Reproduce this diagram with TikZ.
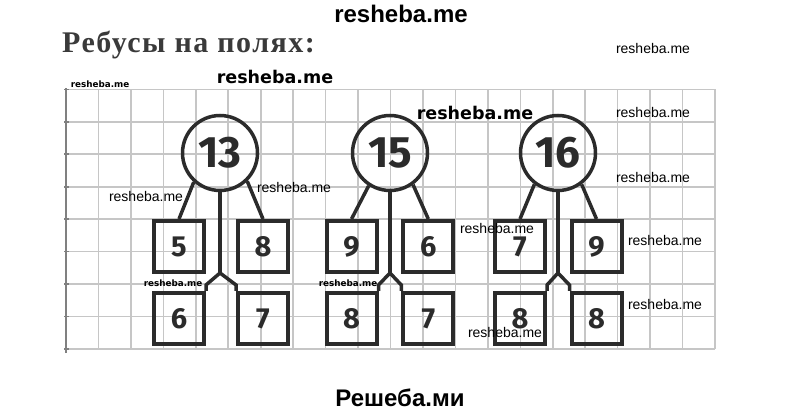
\documentclass[tikz,border=0pt]{standalone}
\usepackage{fontspec}
\setmainfont{Liberation Serif}
\newfontfamily\digitfont{Fira Sans}
\newfontfamily\wmfont{Liberation Sans}
\newfontfamily\wmboldfont{DejaVu Sans}
\usetikzlibrary{calc}

\definecolor{ink}{HTML}{2B2B2B}
\definecolor{gridgray}{HTML}{C6C6C6}
\definecolor{titlegray}{HTML}{3A3A3A}

\tikzset{
    cell/.style={draw=gridgray, line width=1.6pt},
    sumcirc/.style={circle, draw=ink, line width=3.5pt, minimum size=75pt, inner sep=0pt,
        text=ink, font=\digitfont\bfseries\fontsize{44}{44}\selectfont},
    partbox/.style={rectangle, draw=ink, line width=4pt, minimum width=50pt, minimum height=51pt,
        inner sep=0pt, text=ink, font=\digitfont\bfseries\fontsize{29}{29}\selectfont},
    link/.style={draw=ink, line width=3.5pt},
    wm/.style={inner sep=0pt, font=\wmfont\fontsize{14}{14}\selectfont},
    wmbold/.style={inner sep=0pt, font=\wmboldfont\bfseries\fontsize{#1}{#1}\selectfont},
}

\begin{document}
\begin{tikzpicture}[x=1pt, y=1pt]
    \useasboundingbox (0,0) rectangle (800,415);

    % title
    \node[anchor=base west, inner sep=0pt, text=titlegray,
          font=\bfseries\fontsize{30}{30}\selectfont\addfontfeatures{LetterSpace=5}]
          (title) at (62,362) {Ребусы на полях:};

    % squared paper
    \foreach \k in {0,...,20}
        \draw[cell] (66+32.45*\k,66) -- (66+32.45*\k,326);
    \foreach \k in {0,...,8}
        \draw[cell] (66,66+32.45*\k) -- (715,66+32.45*\k);
    \draw[draw=gray, line width=1.2pt] (66,62) -- (66,327);
    \foreach \k in {0,...,8}
        \draw[draw=gray, line width=1.6pt] (64,66+32.45*\k) -- (68.5,66+32.45*\k);

    % the three puzzles
    \foreach \n/\cx/\xl/\xr/\al/\ar/\a/\b/\c/\d in {
            13/220/179/263/228/314/5/8/6/7,
            15/390/351.5/428.3/237/306.6/9/6/8/7,
            16/558/520/596.5/233/307/7/9/8/8} {
        \node[sumcirc] (c\n) at (\cx,262) {\n};
        \node[partbox] (p\n a) at (\xl,168.5) {\a};
        \node[partbox] (p\n b) at (\xr,168.5) {\b};
        \node[partbox] (p\n c) at (\xl,96.5) {\c};
        \node[partbox] (p\n d) at (\xr,96.5) {\d};
        \coordinate (j\n) at (\cx,142);

        \draw[link] (c\n.\al) -- (p\n a.north);
        \draw[link] (c\n.\ar) -- (p\n b.north);
        \draw[link] (c\n.south) -- (j\n);
        \draw[link, line join=miter] (j\n) -- ([yshift=6pt]p\n c.north east) -- (p\n c.north east);
        \draw[link, line join=miter] (j\n) -- ([yshift=6pt]p\n d.north west) -- (p\n d.north west);
    }

    % watermarks
    \node[inner sep=0pt, font=\wmfont\bfseries\fontsize{24}{24}\selectfont] (wmtop) at (401,401) {resheba.me};
    \node[inner sep=0pt, font=\wmfont\bfseries\fontsize{24}{24}\selectfont] (wmbottom) at (400,17) {Решеба.ми};
    \node[wmbold=17.5] (wm1) at (275,338) {resheba.me};
    \node[wmbold=17.5] (wm2) at (475,302) {resheba.me};
    \node[wmbold=8.8] (wm3) at (100,331) {resheba.me};
    \node[wmbold=8.8] (wm4) at (173,132) {resheba.me};
    \node[wmbold=8.8] (wm5) at (348,132) {resheba.me};
    \node[wm] (wm6) at (653,367) {resheba.me};
    \node[wm] (wm7) at (653,303) {resheba.me};
    \node[wm] (wm8) at (653,238) {resheba.me};
    \node[wm] (wm9) at (146,219) {resheba.me};
    \node[wm] (wm10) at (294,228) {resheba.me};
    \node[wm] (wm11) at (497,187) {resheba.me};
    \node[wm] (wm12) at (665,175) {resheba.me};
    \node[wm] (wm13) at (665,111) {resheba.me};
    \node[wm] (wm14) at (505,83) {resheba.me};
\end{tikzpicture}
\end{document}
